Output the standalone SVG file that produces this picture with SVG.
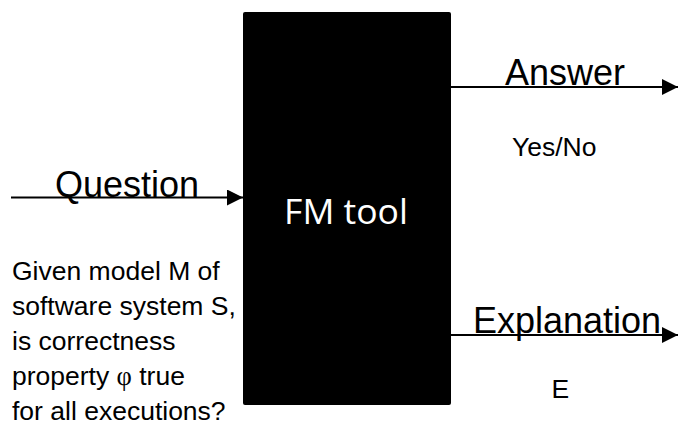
<svg xmlns="http://www.w3.org/2000/svg" width="678" height="430" viewBox="0 0 678 430">
<style>
.big{font-family:"Liberation Sans",Arial,sans-serif;font-size:36px;fill:#000}
.small{font-family:"Liberation Sans",Arial,sans-serif;font-size:26.5px;fill:#000}
.tool{font-family:"Open Sans",sans-serif;font-size:35.5px;fill:#fff}
.conn{stroke:#000;stroke-width:2;fill:none}
</style>
<defs>
<marker id="arr" viewBox="0 0 16 16" refX="16" refY="8" markerWidth="16" markerHeight="16" markerUnits="userSpaceOnUse" orient="auto">
<path d="M0,0 L16,8 L0,16 Z" fill="#000"/>
</marker>
</defs>
<rect width="678" height="430" fill="#fff"/>
<g id="connectors">
<line class="conn" x1="11" y1="197.5" x2="243" y2="197.5" marker-end="url(#arr)"/>
<line class="conn" x1="451" y1="87" x2="678" y2="87" marker-end="url(#arr)"/>
<line class="conn" x1="451" y1="335" x2="678" y2="335" marker-end="url(#arr)"/>
</g>
<g id="fm-tool">
<rect x="243" y="12" width="208" height="393" rx="2" fill="#000"/>
<text class="tool" x="346" y="224" text-anchor="middle">FM tool</text>
</g>
<g id="question">
<text class="big" x="55" y="196.5">Question</text>
<text class="small" x="12" y="280">Given model M of</text>
<text class="small" x="12" y="315">software system S,</text>
<text class="small" x="12" y="350">is correctness</text>
<text class="small" x="12" y="385">property <tspan font-family="'Liberation Serif',serif">φ</tspan> true</text>
<text class="small" x="12" y="420">for all executions?</text>
</g>
<g id="answer">
<text class="big" x="505" y="85">Answer</text>
<text class="small" x="512" y="155.5">Yes/No</text>
</g>
<g id="explanation">
<text class="big" x="473" y="332.5">Explanation</text>
<text class="small" x="551.5" y="398">E</text>
</g>
</svg>
